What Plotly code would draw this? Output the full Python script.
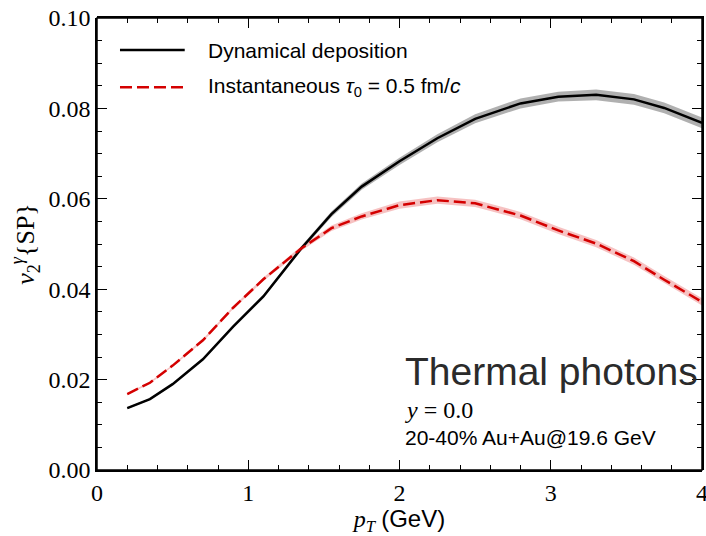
import plotly.graph_objects as go

pt = [0.2, 0.35, 0.5, 0.7, 0.9, 1.1, 1.35, 1.55, 1.75, 2.0, 2.25, 2.5, 2.8, 3.05, 3.3, 3.55, 3.75, 4.0]
v2_dyn = [0.0137, 0.0157, 0.0190, 0.0245, 0.0317, 0.0384, 0.0490, 0.0566, 0.0627, 0.0683,
          0.0734, 0.0777, 0.0811, 0.0826, 0.0830, 0.0820, 0.0801, 0.0768]
err_dyn = [0.0002, 0.0002, 0.0002, 0.0003, 0.0003, 0.0004, 0.0005, 0.0006, 0.0007, 0.0008,
           0.0009, 0.0010, 0.0011, 0.0011, 0.0012, 0.0012, 0.0012, 0.0012]
v2_inst = [0.0168, 0.0193, 0.0231, 0.0287, 0.0359, 0.0422, 0.0490, 0.0535, 0.0561, 0.0586,
           0.0597, 0.0590, 0.0563, 0.0530, 0.0501, 0.0462, 0.0421, 0.0372]
err_inst = [0.0002, 0.0002, 0.0002, 0.0003, 0.0003, 0.0004, 0.0005, 0.0006, 0.0007, 0.0008,
            0.0008, 0.0008, 0.0008, 0.0008, 0.0008, 0.0008, 0.0008, 0.0008]

legend_labels = ["Dynamical deposition", "Instantaneous <i>τ</i><sub>0</sub> = 0.5 fm/<i>c</i>"]

SERIF = "Liberation Serif"
SANS = "Liberation Sans"


def band(x, y, e, color):
    up = [a + b for a, b in zip(y, e)]
    lo = [a - b for a, b in zip(y, e)]
    return go.Scatter(x=list(x) + list(x)[::-1], y=up + lo[::-1], fill="toself",
                      fillcolor=color, line=dict(width=0), mode="lines",
                      hoverinfo="skip", showlegend=False)


fig = go.Figure()
fig.add_trace(band(pt, v2_dyn, err_dyn, "rgba(150,150,150,0.75)"))
fig.add_trace(band(pt, v2_inst, err_inst, "rgba(235,120,120,0.45)"))
fig.add_trace(go.Scatter(x=pt, y=v2_dyn, mode="lines", name=legend_labels[0],
                         line=dict(color="black", width=2.5), showlegend=False,
                         xaxis="x2", yaxis="y2"))
fig.add_trace(go.Scatter(x=pt, y=v2_inst, mode="lines", name=legend_labels[1],
                         line=dict(color="#d40000", width=2.5, dash="12px,5px"), showlegend=False,
                         xaxis="x2", yaxis="y2"))

tick_common = dict(showline=True, linecolor="black", linewidth=1.5,
                   ticks="inside", ticklen=10, tickwidth=1.2, tickcolor="black",
                   showgrid=False, zeroline=False, automargin=False)
xminor = dict(ticks="inside", ticklen=5, dtick=0.2, tickcolor="black", tickwidth=1)
yminor = dict(ticks="inside", ticklen=5, dtick=0.005, tickcolor="black", tickwidth=1)

fig.update_layout(
    xaxis=dict(range=[0, 4], dtick=1, tick0=0, minor=xminor, ticklabeloverflow="allow",
               domain=[0, 1], anchor="y",
               tickfont=dict(family=SERIF, size=24, color="black"),
               title=dict(text="<i>p</i><sub><i>T</i></sub> <span style='font-family:Liberation Sans'>(GeV)</span>",
                          font=dict(family=SERIF, size=24, color="black"), standoff=4),
               **tick_common),
    yaxis=dict(range=[0, 0.1], dtick=0.02, tick0=0, tickformat=".2f", minor=yminor,
               ticklabeloverflow="allow", domain=[0, 1], anchor="x",
               tickfont=dict(family=SERIF, size=24, color="black"),
               title=dict(text="<i>v</i><sub>2</sub><sup><i>γ</i></sup>{SP}",
                          font=dict(family=SERIF, size=26, color="black"), standoff=6),
               **tick_common),
    xaxis2=dict(range=[0, 4], dtick=1, tick0=0, minor=xminor, side="top", domain=[0, 1],
                anchor="y2", showticklabels=False, **tick_common),
    yaxis2=dict(range=[0, 0.1], dtick=0.02, tick0=0, minor=yminor, side="right", domain=[0, 1],
                anchor="x2", showticklabels=False, **tick_common),
)

# frame
fig.add_shape(type="rect", xref="paper", yref="paper", x0=0, x1=1, y0=0, y1=1,
              line=dict(color="black", width=1.5), layer="above")

# manual legend
fig.add_shape(type="line", xref="paper", yref="paper", x0=0.038, x1=0.145, y0=0.929, y1=0.929,
              line=dict(color="black", width=2.5))
fig.add_shape(type="line", xref="paper", yref="paper", x0=0.038, x1=0.145, y0=0.847, y1=0.847,
              line=dict(color="#d40000", width=2.5, dash="12px,5px"))
fig.add_annotation(x=0.18, y=0.929, xref="paper", yref="paper", xanchor="left", yanchor="middle",
                   text=legend_labels[0], showarrow=False, font=dict(family=SANS, size=21, color="black"))
fig.add_annotation(x=0.18, y=0.847, xref="paper", yref="paper", xanchor="left", yanchor="middle",
                   text=legend_labels[1], showarrow=False, font=dict(family=SANS, size=21, color="black"))

fig.add_annotation(x=0.506, y=0.217, xref="paper", yref="paper", xanchor="left", yanchor="middle",
                   text="Thermal photons", showarrow=False,
                   font=dict(family=SANS, size=39, color="#2b2b2b"))
fig.add_annotation(x=0.506, y=0.133, xref="paper", yref="paper", xanchor="left", yanchor="middle",
                   text="<i>y</i> = 0.0", showarrow=False, font=dict(family=SERIF, size=24, color="black"))
fig.add_annotation(x=0.506, y=0.071, xref="paper", yref="paper", xanchor="left", yanchor="middle",
                   text="20-40% Au+Au@19.6 GeV", showarrow=False,
                   font=dict(family=SANS, size=21, color="black"))

fig.update_layout(width=706, height=536, margin=dict(l=97, r=4, t=18, b=66),
                  paper_bgcolor="white", plot_bgcolor="rgba(0,0,0,0)")

fig.write_html("out.html")
